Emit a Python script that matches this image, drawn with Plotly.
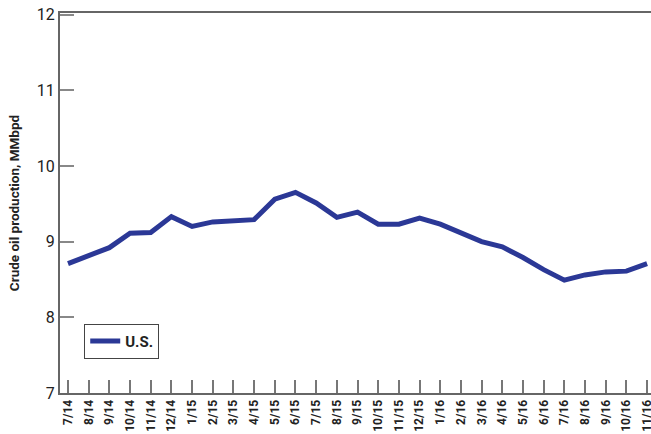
import plotly.graph_objects as go

months = ["7/14", "8/14", "9/14", "10/14", "11/14", "12/14", "1/15", "2/15", "3/15", "4/15",
          "5/15", "6/15", "7/15", "8/15", "9/15", "10/15", "11/15", "12/15", "1/16", "2/16",
          "3/16", "4/16", "5/16", "6/16", "7/16", "8/16", "9/16", "10/16", "11/16"]
us_production = [8.71, 8.81, 8.92, 9.11, 9.12, 9.33, 9.20, 9.26, 9.28, 9.29,
                 9.56, 9.65, 9.51, 9.32, 9.39, 9.23, 9.23, 9.31, 9.23, 9.11,
                 9.00, 8.93, 8.79, 8.63, 8.49, 8.56, 8.60, 8.61, 8.71]
y_ticks = [7, 8, 9, 10, 11, 12]

FONT = "Roboto, Liberation Sans, sans-serif"

def f(size, weight="bold"):
    return dict(size=size, family=FONT, color="#222", weight=weight)

fig = go.Figure()
fig.add_trace(go.Scatter(
    x=list(range(len(months))), y=us_production, mode="lines", name="U.S.",
    line=dict(color="#2b3896", width=5),
))

fig.update_layout(
    width=651, height=434,
    margin=dict(l=60, r=0, t=13, b=41, autoexpand=False),
    paper_bgcolor="white", plot_bgcolor="white",
    font=f(13),
    showlegend=True,
    legend=dict(x=0.041, y=0.182, xanchor="left", yanchor="top",
                bordercolor="#444", borderwidth=1, bgcolor="white",
                font=f(15), itemwidth=30),
    xaxis=dict(
        range=[-0.387, 28.19], automargin=False,
        tickmode="array", tickvals=list(range(len(months))), ticktext=months,
        tickangle=-90, tickfont=f(12), ticklabeloverflow="allow",
        showgrid=False, zeroline=False,
        showline=True, linecolor="#666", linewidth=2, mirror=True,
        ticks="inside", ticklen=13, tickcolor="#777", tickwidth=1.5,
    ),
    yaxis=dict(
        range=[7, 12.02], automargin=False,
        tickvals=y_ticks, ticktext=[str(v) for v in y_ticks],
        tickfont=f(16, "normal"),
        showgrid=False, zeroline=False,
        showline=True, linecolor="#666", linewidth=2,
        ticks="inside", ticklen=14, tickcolor="#888", tickwidth=1.5,
        title=dict(text="Crude oil production, MMbpd", font=f(13.5), standoff=14),
    ),
)

fig.write_html("out.html", config={"displayModeBar": False},
               post_script="document.body.style.margin='0';document.body.style.overflow='hidden';")
